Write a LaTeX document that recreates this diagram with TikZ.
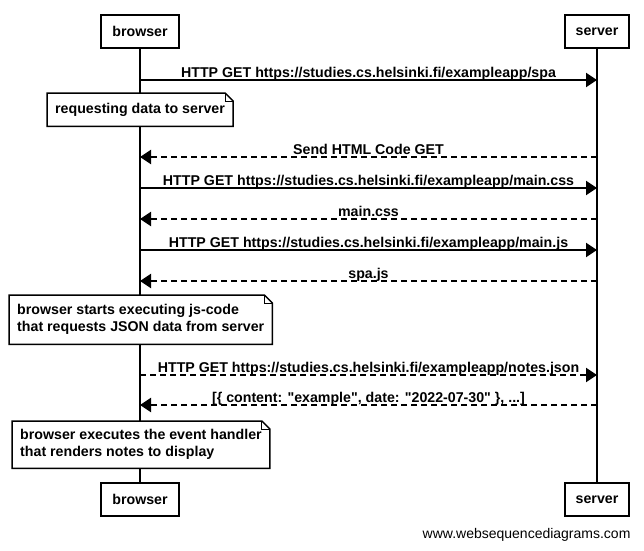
\documentclass[tikz,border=0pt]{standalone}
\usepackage{fontspec}
\setmainfont{Liberation Sans}
\usetikzlibrary{arrows.meta}

\begin{document}
\begin{tikzpicture}[x=1pt,y=-1pt,font=\fontsize{14}{17}\selectfont]

      \useasboundingbox (0,0) rectangle (644,550);

      % Participants
      \begin{scope}[every node/.style={draw,line width=2pt,fill=white,minimum height=33pt,inner xsep=11pt,font=\bfseries\fontsize{14.2}{17}\selectfont}]
        \node (browser) at (140,31.5) {browser};
        \node (server) at (597,31.5) {server};
        \node (browserend) at (140,499.5) {browser};
        \node (serverend) at (597,499.5) {server};
      \end{scope}

      % Lifelines
      \begin{scope}[line width=2pt]
        \draw (browser) -- (browserend);
        \draw (server) -- (serverend);
      \end{scope}

      % Message points
      \foreach \i/\y in {1/80,2/157,3/188,4/219,5/250,6/281,7/375,8/405}{
        \coordinate (b\i) at (browser |- 0,\y);
        \coordinate (s\i) at (server |- 0,\y);
      }

      % Notes
      \begin{scope}[every node/.style={fill=white,anchor=north west,align=left,inner xsep=8pt,font=\bfseries\fontsize{14.2}{17}\selectfont}]
        \node[minimum height=33pt] (note1) at (47,93) {requesting data to server};
        \node[minimum height=49pt] (note2) at (9,295) {browser starts executing js-code\\that requests JSON data from server};
        \node[minimum height=47pt] (note3) at (12,421) {browser executes the event handler\\that renders notes to display};
      \end{scope}

      \foreach \n in {note1,note2,note3}{
        \draw[line width=1.5pt] (\n.north west) -- ([xshift=-8pt]\n.north east) -- ([yshift=-8pt]\n.north east)
          -- (\n.south east) -- (\n.south west) -- cycle;
        \draw[line width=1pt] ([xshift=-8pt]\n.north east) -- ([xshift=-8pt,yshift=-8pt]\n.north east) -- ([yshift=-8pt]\n.north east);
      }

      % Messages
      \begin{scope}[line width=2pt,-{Triangle[length=11pt,width=14pt]},
          every node/.style={anchor=base,yshift=3pt,font=\bfseries\fontsize{14.2}{17}\selectfont},
          reply/.style={dash pattern=on 6pt off 4pt}]
        \draw (b1) -- node {HTTP GET https://studies.cs.helsinki.fi/exampleapp/spa} (s1);
        \draw[reply] (s2) -- node {Send HTML Code GET} (b2);
        \draw (b3) -- node {HTTP GET https://studies.cs.helsinki.fi/exampleapp/main.css} (s3);
        \draw[reply] (s4) -- node {main.css} (b4);
        \draw (b5) -- node {HTTP GET https://studies.cs.helsinki.fi/exampleapp/main.js} (s5);
        \draw[reply] (s6) -- node {spa.js} (b6);
        \draw[reply] (b7) -- node {HTTP GET https://studies.cs.helsinki.fi/exampleapp/notes.json} (s7);
        \draw[reply] (s8) -- node {[\{ content: \textquotedbl example\textquotedbl, date: \textquotedbl 2022-07-30\textquotedbl\ \}, ...]} (b8);
      \end{scope}

      % Footer
      \node[anchor=base east] (credit) at (634,538) {www.websequencediagrams.com};

    \end{tikzpicture}
\end{document}
